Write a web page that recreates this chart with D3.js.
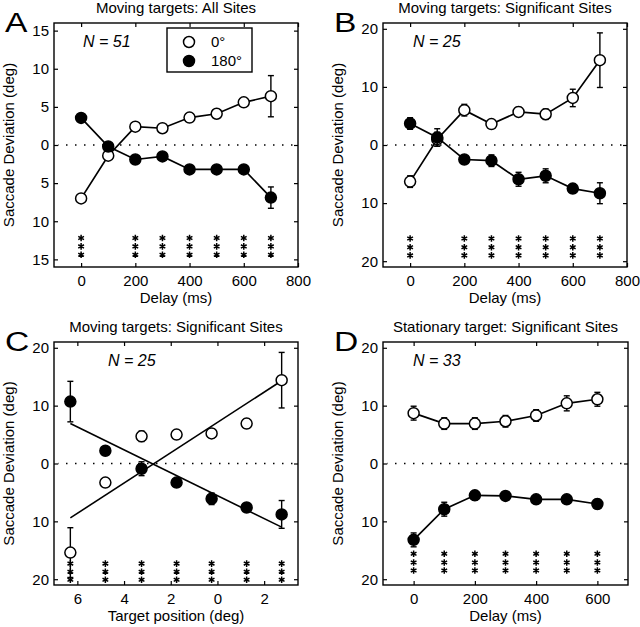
<!DOCTYPE html>
<html>
<head>
<meta charset="utf-8">
<script src="https://cdn.jsdelivr.net/npm/d3@7"></script>
<style>
  body { margin: 0; background: #fff; }
  text { font-family: "Liberation Sans", Arial, Helvetica, sans-serif; fill: #000; }
</style>
</head>
<body>
<svg id="chart" width="640" height="627"></svg>
<script>
// ---------------- DATA ----------------
const delays8 = [0, 100, 200, 300, 400, 500, 600, 700];
const delays7 = [0, 100, 200, 300, 400, 500, 600];
const targetPos = [6.3, 4.8, 3.25, 1.75, 0.25, -1.25, -2.75];

// Panel A: Moving targets, all sites
const aOpen = [-7.0, -1.4, 2.4, 2.2, 3.6, 4.1, 5.6, 6.4];
const aOpenErr = [0.5, 0.4, 0.5, 0.4, 0.4, 0.4, 0.5, 2.7];
const aFilled = [3.55, -0.2, -1.9, -1.5, -3.2, -3.2, -3.2, -6.9];
const aFilledErr = [0.5, 0.5, 0.4, 0.4, 0.4, 0.4, 0.5, 1.4];
const aStarX = [0, 200, 300, 400, 500, 600, 700];
const aStarY = [-12.2, -13.3, -14.4];

// Panel B: Moving targets, significant sites
const bOpen = [-6.3, 1.0, 6.0, 3.6, 5.7, 5.3, 8.1, 14.6];
const bOpenErr = [1.0, 1.2, 1.0, 0.6, 0.8, 0.9, 1.5, 4.7];
const bFilled = [3.7, 1.3, -2.5, -2.7, -5.9, -5.3, -7.5, -8.3];
const bFilledErr = [1.0, 1.5, 0.6, 1.0, 1.2, 1.2, 0.8, 1.8];
const bStarX = [0, 200, 300, 400, 500, 600, 700];
const bStarY = [-16.1, -17.6, -19.0];

// Panel C: Moving targets vs target position
const cOpen = [-15.4, -3.3, 4.7, 5.0, 5.2, 6.9, 14.4];
const cOpenErr = [4.3, 0.6, 0.9, 0.5, 0.8, 0.8, 4.8];
const cFilled = [10.7, 2.2, -0.9, -3.3, -6.1, -7.6, -8.8];
const cFilledErr = [3.5, 0.6, 1.2, 0.6, 1.0, 0.7, 2.4];
const cOpenFit = [-9.4, 14.3];
const cFilledFit = [6.9, -11.0];
const cStarY = [-17.3, -18.7, -20.1];

// Panel D: Stationary target, significant sites
const dOpen = [8.7, 6.9, 6.9, 7.3, 8.3, 10.4, 11.1];
const dOpenErr = [1.2, 1.0, 1.0, 1.0, 1.0, 1.3, 1.2];
const dFilled = [-13.2, -7.9, -5.5, -5.6, -6.2, -6.2, -7.0];
const dFilledErr = [1.2, 1.2, 0.8, 0.6, 0.6, 0.6, 0.8];
const dStarY = [-15.6, -17.1, -18.5];

// Tick values
const ticksA = [-15, -10, -5, 0, 5, 10, 15];
const ticks20 = [-20, -10, 0, 10, 20];
const delayTicks8 = [0, 200, 400, 600, 800];
const delayTicks7 = [0, 200, 400, 600];
const posTicks = [6, 4, 2, 0, -2];

// Titles & labels
const titles = ["Moving targets: All Sites", "Moving targets: Significant Sites",
                "Moving targets: Significant Sites", "Stationary target: Significant Sites"];
const letters = ["A", "B", "C", "D"];
const nLabels = ["N = 51", "N = 25", "N = 25", "N = 33"];
const xLabels = ["Delay (ms)", "Delay (ms)", "Target position (deg)", "Delay (ms)"];
const yLabel = "Saccade Deviation (deg)";
const legendLabels = ["0\u00B0", "180\u00B0"];

// ---------------- DRAW ----------------
const svg = d3.select("#chart");

function zip(xs, ys, es) { return xs.map((x, i) => ({ x, y: ys[i], e: es ? es[i] : 0 })); }

const panels = [
  { box: [54, 298, 23, 267], xDomain: [-100, 800], yMax: 16, yTicks: ticksA, xTicks: delayTicks8,
    open: zip(delays8, aOpen, aOpenErr), filled: zip(delays8, aFilled, aFilledErr),
    starX: aStarX, starY: aStarY, nPos: [83, 47], legend: true },
  { box: [383, 627, 23, 267], xDomain: [-100, 800], yMax: 21, yTicks: ticks20, xTicks: delayTicks8,
    open: zip(delays8, bOpen, bOpenErr), filled: zip(delays8, bFilled, bFilledErr),
    starX: bStarX, starY: bStarY, nPos: [413, 47] },
  { box: [54, 298, 342, 585], xDomain: [7, -3.45], yMax: 21, yTicks: ticks20, xTicks: posTicks,
    open: zip(targetPos, cOpen, cOpenErr), filled: zip(targetPos, cFilled, cFilledErr),
    starX: targetPos, starY: cStarY, nPos: [108, 366], noLines: true,
    fits: [cOpenFit, cFilledFit] },
  { box: [383, 628, 342, 585], xDomain: [-100, 700], yMax: 21, yTicks: ticks20, xTicks: delayTicks7,
    open: zip(delays7, dOpen, dOpenErr), filled: zip(delays7, dFilled, dFilledErr),
    starX: delays7, starY: dStarY, nPos: [413, 366] }
];

panels.forEach((p, pi) => {
  const [L, R, T, B] = p.box;
  const g = svg.append("g");
  const x = d3.scaleLinear().domain(p.xDomain).range([L, R]);
  const y = d3.scaleLinear().domain([-p.yMax, p.yMax]).range([B, T]);
  const fmt = d => Math.abs(d);

  // axes (ticks inward on all sides)
  const ax = [
    g.append("g").attr("transform", `translate(${L},0)`).call(d3.axisLeft(y).tickValues(p.yTicks).tickSize(-4).tickPadding(5).tickFormat(fmt)),
    g.append("g").attr("transform", `translate(${R},0)`).call(d3.axisRight(y).tickValues(p.yTicks).tickSize(-4).tickFormat("")),
    g.append("g").attr("transform", `translate(0,${B})`).call(d3.axisBottom(x).tickValues(p.xTicks).tickSize(-4).tickPadding(8).tickFormat(fmt)),
    g.append("g").attr("transform", `translate(0,${T})`).call(d3.axisTop(x).tickValues(p.xTicks).tickSize(-4).tickFormat(""))
  ];
  ax.forEach(a => {
    a.select(".domain").remove();
    a.selectAll("line").attr("stroke", "#000").attr("stroke-width", 1.2);
    a.selectAll("text").style("font-size", "15px").attr("fill", "#000");
  });
  g.append("rect").attr("x", L).attr("y", T).attr("width", R - L).attr("height", B - T)
    .attr("fill", "none").attr("stroke", "#000").attr("stroke-width", 1.4);

  // zero dotted line
  g.append("line").attr("x1", L + 4).attr("x2", R - 4).attr("y1", y(0)).attr("y2", y(0))
    .attr("stroke", "#000").attr("stroke-width", 1.5).attr("stroke-dasharray", "1.5,7.5")
    .attr("stroke-dashoffset", -8);

  // regression fits (panel C)
  if (p.fits) {
    const xs = [p.open[0].x, p.open[p.open.length - 1].x];
    p.fits.forEach(f => {
      g.append("line").attr("x1", x(xs[0])).attr("x2", x(xs[1]))
        .attr("y1", y(f[0])).attr("y2", y(f[1]))
        .attr("stroke", "#000").attr("stroke-width", 1.6);
    });
  }

  const line = d3.line().x(d => x(d.x)).y(d => y(d.y));
  [["open", "#fff"], ["filled", "#000"]].forEach(([key, fill]) => {
    const data = p[key];
    if (!p.noLines) {
      g.append("path").datum(data).attr("d", line).attr("fill", "none")
        .attr("stroke", "#000").attr("stroke-width", 1.7);
    }
    const eb = g.append("g").attr("stroke", "#000").attr("stroke-width", 1.4);
    data.forEach(d => {
      eb.append("line").attr("x1", x(d.x)).attr("x2", x(d.x)).attr("y1", y(d.y - d.e)).attr("y2", y(d.y + d.e));
      eb.append("line").attr("x1", x(d.x) - 3).attr("x2", x(d.x) + 3).attr("y1", y(d.y - d.e)).attr("y2", y(d.y - d.e));
      eb.append("line").attr("x1", x(d.x) - 3).attr("x2", x(d.x) + 3).attr("y1", y(d.y + d.e)).attr("y2", y(d.y + d.e));
    });
    g.selectAll(null).data(data).enter().append("circle")
      .attr("cx", d => x(d.x)).attr("cy", d => y(d.y)).attr("r", 5.5)
      .attr("fill", fill).attr("stroke", "#000").attr("stroke-width", 1.5);
  });

  // significance stars
  const star = d3.symbol().type(d3.symbolAsterisk).size(30);
  p.starX.forEach(sx => {
    p.starY.forEach(sy => {
      g.append("path").attr("d", star).attr("transform", `translate(${x(sx)},${y(sy)})`)
        .attr("fill", "none").attr("stroke", "#000").attr("stroke-width", 1.5);
    });
  });

  // texts
  const cx = (L + R) / 2;
  g.append("text").attr("x", cx).attr("y", T - 10).attr("text-anchor", "middle")
    .style("font-size", "15px").text(titles[pi]);
  g.append("text").attr("x", cx).attr("y", B + 36).attr("text-anchor", "middle")
    .style("font-size", "15px").text(xLabels[pi]);
  g.append("text").attr("transform", `translate(${L - 40},${(T + B) / 2}) rotate(-90)`)
    .attr("text-anchor", "middle").style("font-size", "15px").text(yLabel);
  g.append("text").attr("transform", `translate(${L - 49},${T + 9}) scale(1.2,1)`)
    .style("font-size", "28px").text(letters[pi]);
  g.append("text").attr("x", p.nPos[0]).attr("y", p.nPos[1]).style("font-size", "16px")
    .style("font-style", "italic").text(nLabels[pi]);

  if (p.legend) {
    const lg = g.append("g");
    lg.append("rect").attr("x", 167).attr("y", 28).attr("width", 85).attr("height", 44)
      .attr("fill", "#fff").attr("stroke", "#000").attr("stroke-width", 1.4);
    [["#fff", 42], ["#000", 61]].forEach(([f, yy], i) => {
      lg.append("circle").attr("cx", 189).attr("cy", yy).attr("r", 5.5)
        .attr("fill", f).attr("stroke", "#000").attr("stroke-width", 1.5);
      lg.append("text").attr("x", 211).attr("y", yy + 5).style("font-size", "15px").text(legendLabels[i]);
    });
  }
});
</script>
</body>
</html>
